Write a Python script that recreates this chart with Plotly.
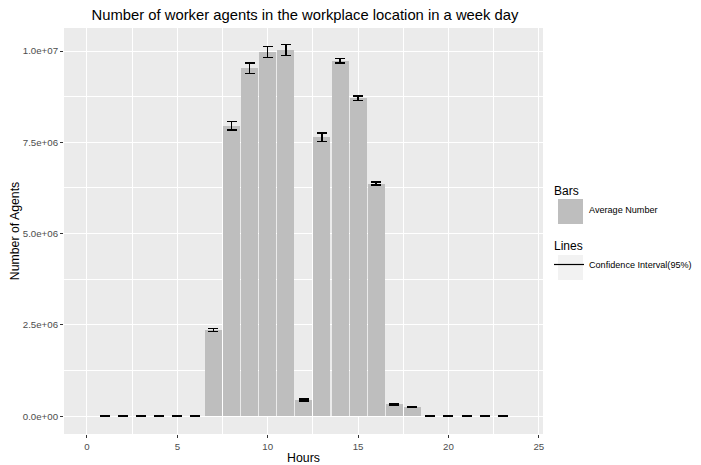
import plotly.graph_objects as go

hours = list(range(1, 24))
avg_agents = [0, 0, 0, 0, 0, 0,
              2.36e6, 7.95e6, 9.53e6, 9.97e6, 10.03e6, 0.44e6,
              7.64e6, 9.73e6, 8.71e6, 6.37e6, 0.33e6, 0.25e6,
              0, 0, 0, 0, 0]
ci_half = [0.01e6, 0.01e6, 0.01e6, 0.01e6, 0.01e6, 0.01e6,
           0.045e6, 0.12e6, 0.14e6, 0.15e6, 0.15e6, 0.03e6,
           0.12e6, 0.06e6, 0.06e6, 0.045e6, 0.02e6, 0.015e6,
           0.01e6, 0.01e6, 0.01e6, 0.01e6, 0.01e6]
y_tickvals = [0, 2.5e6, 5.0e6, 7.5e6, 1.0e7]
y_ticktext = ["0.0e+00", "2.5e+06", "5.0e+06", "7.5e+06", "1.0e+07"]
x_tickvals = [0, 5, 10, 15, 20, 25]

FONT = "Liberation Sans, Arial, Helvetica, sans-serif"
OFF = 8  # page body margin
W, H = 701 - OFF, 465 - OFF
L, R, T, B = 64 - OFF, 158, 28 - OFF, 31
PW, PH = W - L - R, H - T - B


def px_x(px):  # screen pixel -> paper x
    return (px - OFF - L) / PW


def px_y(py):  # screen pixel -> paper y
    return (H - B - (py - OFF)) / PH


fig = go.Figure()
fig.add_trace(go.Bar(
    x=hours, y=avg_agents, name="Average Number",
    marker=dict(color="#BEBEBE", line=dict(width=0)),
    width=0.94,
    error_y=dict(type="data", array=ci_half, visible=True,
                 color="black", thickness=1.5, width=5),
    legendgroup="bars", legendgrouptitle=dict(text="Bars", font=dict(size=12, color="black")),
))
fig.add_trace(go.Scatter(
    x=[None], y=[None], mode="lines", name="Confidence Interval(95%)",
    line=dict(color="black", width=1.2),
    legendgroup="lines", legendgrouptitle=dict(text="Lines", font=dict(size=12, color="black")),
))

# legend key backgrounds (ggplot-style larger keys)
shapes = [
    dict(type="rect", xref="paper", yref="paper", layer="below",
         x0=px_x(558), x1=px_x(583), y0=px_y(224), y1=px_y(199),
         fillcolor="#BEBEBE", line=dict(width=0)),
    dict(type="rect", xref="paper", yref="paper", layer="below",
         x0=px_x(558), x1=px_x(583), y0=px_y(280), y1=px_y(255),
         fillcolor="#F2F2F2", line=dict(width=0)),
]

fig.update_layout(
    width=W, height=H,
    margin=dict(l=L, r=R, t=T, b=B, autoexpand=False),
    paper_bgcolor="white", plot_bgcolor="#EBEBEB",
    font=dict(family=FONT, size=10, color="black"),
    title=dict(text="Number of worker agents in the workplace location in a week day",
               x=(305 - OFF) / W, xanchor="center", y=1 - (15 - OFF) / H, yanchor="middle",
               font=dict(size=14.8, color="black")),
    bargap=0,
    shapes=shapes,
    legend=dict(x=px_x(549), xanchor="left", y=px_y(176), yanchor="top",
                font=dict(size=9.1, color="black"), tracegroupgap=17,
                bgcolor="rgba(0,0,0,0)", itemwidth=30),
    showlegend=True,
)
fig.update_xaxes(
    range=[-1.27, 25.23], tickvals=x_tickvals, ticks="outside", ticklen=3,
    tickcolor="#333333", tickfont=dict(size=9.7, color="#4D4D4D"),
    showgrid=True, gridcolor="white", gridwidth=1.1, zeroline=False, showline=False,
    minor=dict(dtick=2.5, tick0=0, showgrid=True, gridcolor="white", gridwidth=0.5, ticks=""),
    title=dict(text="Hours", font=dict(size=12.3, color="black"), standoff=7),
    automargin=False,
)
fig.update_yaxes(
    range=[-0.49e6, 10.63e6], tickvals=y_tickvals, ticktext=y_ticktext,
    ticks="outside", ticklen=3, tickcolor="#333333", tickfont=dict(size=9.7, color="#4D4D4D"),
    showgrid=True, gridcolor="white", gridwidth=1.1, zeroline=False, showline=False,
    minor=dict(dtick=1.25e6, tick0=0, showgrid=True, gridcolor="white", gridwidth=0.5, ticks=""),
    title=dict(text="Number of Agents", font=dict(size=12.3, color="black"), standoff=0),
    automargin=False,
)

fig.write_html("out.html")
